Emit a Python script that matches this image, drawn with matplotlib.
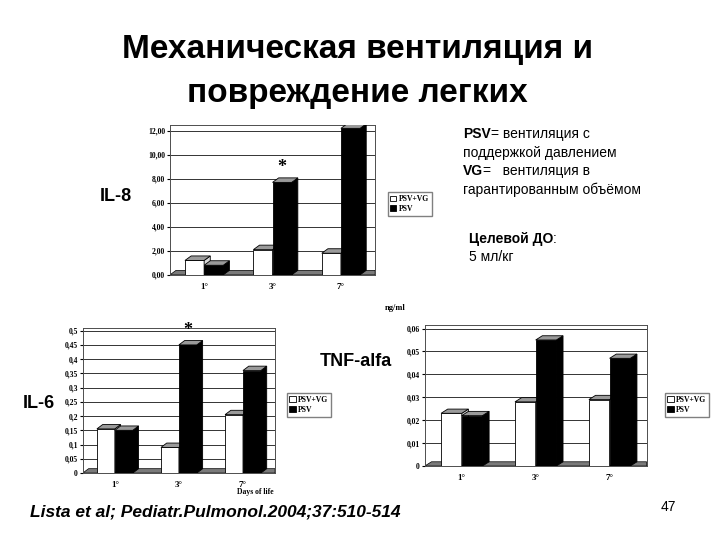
import numpy as np
import matplotlib as mpl

mpl.use("Agg")
import matplotlib.pyplot as plt
from matplotlib.patches import Polygon, Patch

# data
days = ["1°", "3°", "7°"]
series = ["PSV+VG", "PSV"]

il8_vg = [1.2, 2.1, 1.8]
il8_psv = [0.8, 7.7, 12.2]
il8_ticks = [0, 2, 4, 6, 8, 10, 12]
il8_ticklabels = ["0,00", "2,00", "4,00", "6,00", "8,00", "10,00", "12,00"]

il6_vg = [0.155, 0.09, 0.205]
il6_psv = [0.15, 0.45, 0.36]
il6_ticks = [0, 0.05, 0.1, 0.15, 0.2, 0.25, 0.3, 0.35, 0.4, 0.45, 0.5]
il6_ticklabels = ["0", "0,05", "0,1", "0,15", "0,2", "0,25", "0,3",
                  "0,35", "0,4", "0,45", "0,5"]

tnf_vg = [0.023, 0.028, 0.029]
tnf_psv = [0.022, 0.055, 0.047]
tnf_ticks = [0, 0.01, 0.02, 0.03, 0.04, 0.05, 0.06]
tnf_ticklabels = ["0", "0,01", "0,02", "0,03", "0,04", "0,05", "0,06"]

SERIF = "Liberation Serif"
SANS = "Liberation Sans"


def bar3d(ax, x, w, h, face, dx, dy):
    ax.bar(x, h, w, color=face, edgecolor="black", linewidth=0.6, zorder=3)
    x0, x1 = x - w / 2, x + w / 2
    side = "#d9d9d9" if face == "white" else "black"
    ax.add_patch(Polygon([(x1, 0), (x1 + dx, dy), (x1 + dx, h + dy), (x1, h)],
                         closed=True, fc=side, ec="black", lw=0.6, zorder=3))
    ax.add_patch(Polygon([(x0, h), (x0 + dx, h + dy), (x1 + dx, h + dy), (x1, h)],
                         closed=True, fc="#9a9a9a", ec="black", lw=0.6, zorder=3))


def chart(ax, vg, psv, ticks, ticklabels, ymax):
    x = np.arange(len(days))
    w = 0.28
    dx = 0.09
    dy = ymax * 0.03
    ax.set_xlim(-0.5, len(days) - 0.5)
    ax.set_ylim(0, ymax)
    # floor slab
    ax.add_patch(Polygon([(-0.5, 0), (-0.5 + dx, dy), (len(days) - 0.5, dy),
                          (len(days) - 0.5, 0)], closed=True,
                         fc="#7a7a7a", ec="black", lw=0.5, zorder=2))
    for i in range(len(days)):
        bar3d(ax, x[i] - w / 2, w, vg[i], "white", dx, dy)
        bar3d(ax, x[i] + w / 2, w, psv[i], "black", dx, dy)
    ax.set_yticks(ticks)
    ax.set_yticklabels(ticklabels, fontfamily=SERIF, fontweight="bold", fontsize=5.5)
    ax.set_xticks(x)
    ax.set_xticklabels(days, fontfamily=SERIF, fontweight="bold", fontsize=6.5)
    ax.tick_params(axis="x", length=0, pad=6)
    ax.tick_params(axis="y", length=2, pad=1.5)
    ax.yaxis.grid(True, color="0.2", lw=0.7)
    ax.set_axisbelow(True)
    for s in ax.spines.values():
        s.set_linewidth(0.7)
        s.set_color("0.3")
    handles = [Patch(fc="white", ec="black", lw=0.6, label=series[0]),
               Patch(fc="black", ec="black", lw=0.6, label=series[1])]
    return handles


fig = plt.figure(figsize=(7.2, 5.4), dpi=100)

# title
fig.text(0.497, 0.893, "Механическая вентиляция и", ha="center", va="baseline",
         fontfamily=SANS, fontweight="bold", fontsize=24)
fig.text(0.497, 0.811, "повреждение легких", ha="center", va="baseline",
         fontfamily=SANS, fontweight="bold", fontsize=24)

leg_kw = dict(prop={"family": SERIF, "weight": "bold", "size": 5.5},
              handlelength=0.8, handleheight=0.8, handletextpad=0.3,
              borderpad=0.35, labelspacing=0.25, fancybox=False,
              edgecolor="0.5", framealpha=1, loc="center left",
              bbox_transform=fig.transFigure)

# IL-8
ax1 = fig.add_axes([0.236, 0.491, 0.285, 0.278])
h = chart(ax1, il8_vg, il8_psv, il8_ticks, il8_ticklabels, 12.5)
ax1.text(1 + 0.14, 8.6, "*", ha="center", fontfamily=SERIF, fontweight="bold", fontsize=13)
ax1.legend(handles=h, bbox_to_anchor=(0.533, 0.622), **leg_kw)
fig.text(0.139, 0.637, "IL-8", ha="left", va="center", fontfamily=SANS,
         fontweight="bold", fontsize=13)

# IL-6
ax2 = fig.add_axes([0.115, 0.124, 0.267, 0.269])
h = chart(ax2, il6_vg, il6_psv, il6_ticks, il6_ticklabels, 0.51)
ax2.text(1 + 0.14, 0.485, "*", ha="center", fontfamily=SERIF, fontweight="bold", fontsize=13)
ax2.legend(handles=h, bbox_to_anchor=(0.393, 0.250), **leg_kw)
fig.text(0.031, 0.252, "IL-6", ha="left", va="center", fontfamily=SANS,
         fontweight="bold", fontsize=13)
fig.text(0.355, 0.089, "Days of life", ha="center", va="center",
         fontfamily=SERIF, fontweight="bold", fontsize=5.5)

# TNF-alfa
ax3 = fig.add_axes([0.590, 0.137, 0.308, 0.261])
h = chart(ax3, tnf_vg, tnf_psv, tnf_ticks, tnf_ticklabels, 0.0615)
ax3.legend(handles=h, bbox_to_anchor=(0.918, 0.250), **leg_kw)
fig.text(0.444, 0.330, "TNF-alfa", ha="left", va="center", fontfamily=SANS,
         fontweight="bold", fontsize=13)
fig.text(0.535, 0.430, "ng/ml", ha="left", va="center",
         fontfamily=SERIF, fontweight="bold", fontsize=6)


# notes on the right: bold word followed by plain text on one baseline
def note(x, y, bold, rest, size=10):
    t = fig.text(x, y, bold, ha="left", va="baseline", fontfamily=SANS,
                 fontweight="bold", fontsize=size)
    fig.canvas.draw()
    bb = t.get_window_extent().transformed(fig.transFigure.inverted())
    fig.text(bb.x1, y, rest, ha="left", va="baseline", fontfamily=SANS, fontsize=size)


note(0.643, 0.745, "PSV", "= вентиляция с")
fig.text(0.643, 0.710, "поддержкой давлением", ha="left", va="baseline",
         fontfamily=SANS, fontsize=10)
note(0.643, 0.676, "VG", "=   вентиляция в")
fig.text(0.643, 0.641, "гарантированным объёмом", ha="left", va="baseline",
         fontfamily=SANS, fontsize=10)
note(0.651, 0.550, "Целевой ДО", ":")
fig.text(0.651, 0.516, "5 мл/кг", ha="left", va="baseline",
         fontfamily=SANS, fontsize=10)

# footer
fig.text(0.042, 0.052, "Lista et al; Pediatr.Pulmonol.2004;37:510-514", ha="left",
         va="center", fontfamily=SANS, fontstyle="italic", fontweight="bold",
         fontsize=12.5)
fig.text(0.917, 0.061, "47", ha="left", va="center", fontfamily=SANS, fontsize=10)

fig.savefig("out.png", dpi=100)
